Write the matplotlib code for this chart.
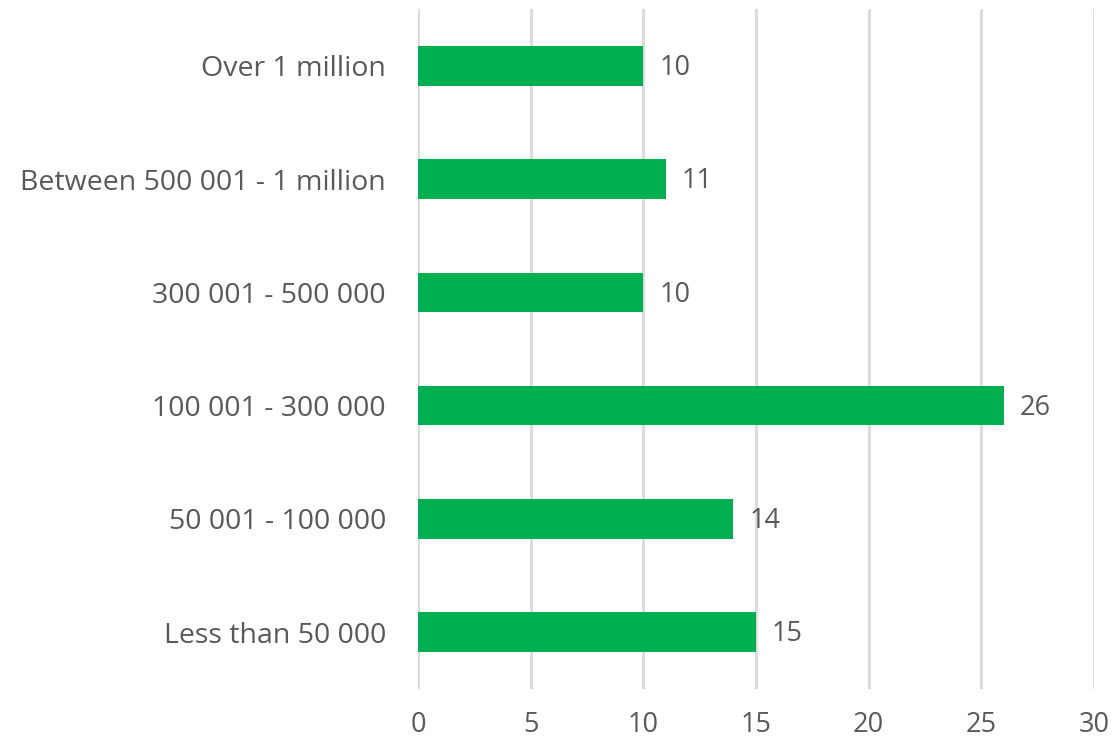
import matplotlib
matplotlib.use("Agg")
import matplotlib.pyplot as plt

categories = [
    "Over 1 million",
    "Between 500 001 - 1 million",
    "300 001 - 500 000",
    "100 001 - 300 000",
    "50 001 - 100 000",
    "Less than 50 000",
]
values = [10, 11, 10, 26, 14, 15]
x_ticks = [0, 5, 10, 15, 20, 25, 30]

text_color = "#595959"
bar_color = "#00B050"
grid_color = "#D9D9D9"

plt.rcParams["font.family"] = ["Open Sans", "DejaVu Sans"]

fig = plt.figure(figsize=(11.12, 7.38), dpi=100)
ax = fig.add_axes([0.3759, 0.0669, 0.9838 - 0.3759, 0.9873 - 0.0669])

y_pos = list(range(len(categories)))
ax.barh(y_pos, values, height=0.35, color=bar_color, zorder=3)

for y, v in zip(y_pos, values):
    ax.text(v + 0.7, y + 0.02, str(v), va="center", ha="left",
            fontsize=19.5, color=text_color)

ax.set_xlim(0, 30)
ax.set_ylim(len(categories) - 0.5, -0.5)
ax.set_xticks(x_ticks)
ax.set_yticks(y_pos)
ax.set_yticklabels(categories)

ax.tick_params(axis="y", length=0, pad=23, labelsize=20.5, labelcolor=text_color)
ax.tick_params(axis="x", length=0, pad=16, labelsize=19.5, labelcolor=text_color)

ax.grid(axis="x", color=grid_color, linewidth=2, zorder=0)
for spine in ax.spines.values():
    spine.set_visible(False)

fig.savefig("out.png", dpi=100)
plt.close(fig)
